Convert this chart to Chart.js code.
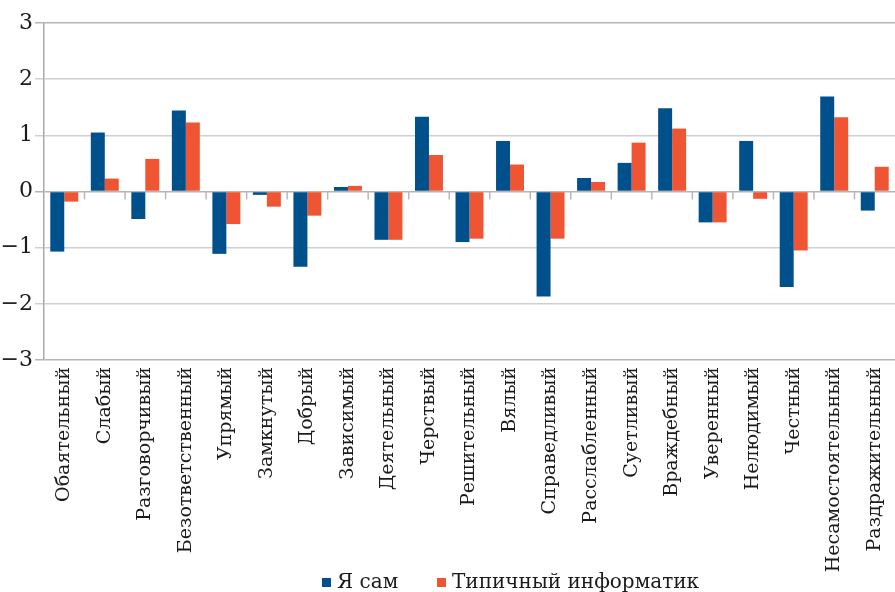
<!DOCTYPE html>
<html>
<head>
<meta charset="utf-8">
<script src="https://cdn.jsdelivr.net/npm/chart.js@4.4.0/dist/chart.umd.min.js"></script>
<style>
  html, body { margin: 0; padding: 0; background: #fff; }
  #wrap { position: relative; width: 895px; height: 592px; }
  .item { position: absolute; top: 569px; font-family: 'DejaVu Serif', serif; font-size: 20px; line-height: 24px; color: #1a1a1a; white-space: nowrap; }
  .sw { display: inline-block; width: 9px; height: 9px; margin-right: 6px; position: relative; top: -1px; }
</style>
</head>
<body>
<div id="wrap">
  <canvas id="chart" width="895" height="592"></canvas>
</div>
<script>
const categories = ['Обаятельный', 'Слабый', 'Разговорчивый', 'Безответственный', 'Упрямый',
  'Замкнутый', 'Добрый', 'Зависимый', 'Деятельный', 'Черствый', 'Решительный', 'Вялый',
  'Справедливый', 'Расслабленный', 'Суетливый', 'Враждебный', 'Уверенный', 'Нелюдимый',
  'Честный', 'Несамостоятельный', 'Раздражительный'];

const selfValues = [-1.07, 1.05, -0.49, 1.44, -1.11, -0.06, -1.34, 0.08, -0.86, 1.33, -0.90, 0.90,
  -1.87, 0.24, 0.51, 1.48, -0.55, 0.90, -1.70, 1.69, -0.34];

const typicalValues = [-0.18, 0.23, 0.58, 1.23, -0.58, -0.27, -0.43, 0.10, -0.86, 0.65, -0.84, 0.48,
  -0.84, 0.17, 0.87, 1.12, -0.55, -0.13, -1.05, 1.32, 0.44];

const seriesNames = ['Я сам', 'Типичный информатик'];
const seriesColors = ['#00508c', '#f05533'];

const serif = "'DejaVu Serif', serif";

// little separator ticks hanging under the zero line
const zeroTicks = {
  id: 'zeroTicks',
  beforeDatasetsDraw(chart) {
    const { ctx, scales: { x, y } } = chart;
    const y0 = y.getPixelForValue(0);
    ctx.save();
    ctx.strokeStyle = '#b8b8b8';
    ctx.lineWidth = 1.5;
    for (let i = 1; i < categories.length; i++) {
      const bx = (x.getPixelForTick(i - 1) + x.getPixelForTick(i)) / 2;
      ctx.beginPath();
      ctx.moveTo(bx, y0);
      ctx.lineTo(bx, y0 + 8);
      ctx.stroke();
    }
    ctx.restore();
  }
};

new Chart(document.getElementById('chart').getContext('2d'), {
  type: 'bar',
  data: {
    labels: categories,
    datasets: [
      { label: seriesNames[0], data: selfValues, backgroundColor: seriesColors[0] },
      { label: seriesNames[1], data: typicalValues, backgroundColor: seriesColors[1] }
    ]
  },
  options: {
    responsive: false,
    animation: false,
    layout: { padding: { top: 23, left: 0, right: 0, bottom: 0 } },
    categoryPercentage: 0.69,
    barPercentage: 1,
    plugins: {
      legend: { display: false },
      tooltip: { enabled: false }
    },
    scales: {
      x: {
        grid: { display: false, drawTicks: false },
        border: { display: false },
        ticks: {
          autoSkip: false,
          maxRotation: 90,
          minRotation: 90,
          padding: 7,
          color: '#1a1a1a',
          font: { family: serif, size: 19 }
        },
        afterFit(scale) {
          scale.height = 232;
          scale.paddingLeft = 0;
          scale.paddingRight = 0;
        }
      },
      y: {
        min: -3,
        max: 3,
        ticks: {
          stepSize: 1,
          padding: 2,
          color: '#1a1a1a',
          font: { family: serif, size: 22 },
          callback: v => (v < 0 ? '\u2212' + Math.abs(v) : String(v))
        },
        grid: {
          tickLength: 9,
          lineWidth: 1.5,
          color: ctx => (ctx.tick && (ctx.tick.value === 0 || ctx.tick.value === -3 || ctx.tick.value === 3)) ? '#b4b4b4' : '#cfcfcf'
        },
        border: { display: true, color: '#aaaaaa', width: 1.5 },
        afterFit(scale) {
          scale.width = 44;
        }
      }
    }
  },
  plugins: [zeroTicks]
});

// legend below the axis labels, as in the original
const legendLeft = [322, 437];
seriesNames.forEach((name, i) => {
  const item = document.createElement('div');
  item.className = 'item';
  item.style.left = legendLeft[i] + 'px';
  const sw = document.createElement('span');
  sw.className = 'sw';
  sw.style.background = seriesColors[i];
  item.appendChild(sw);
  item.appendChild(document.createTextNode(name));
  document.getElementById('wrap').appendChild(item);
});
</script>
</body>
</html>
